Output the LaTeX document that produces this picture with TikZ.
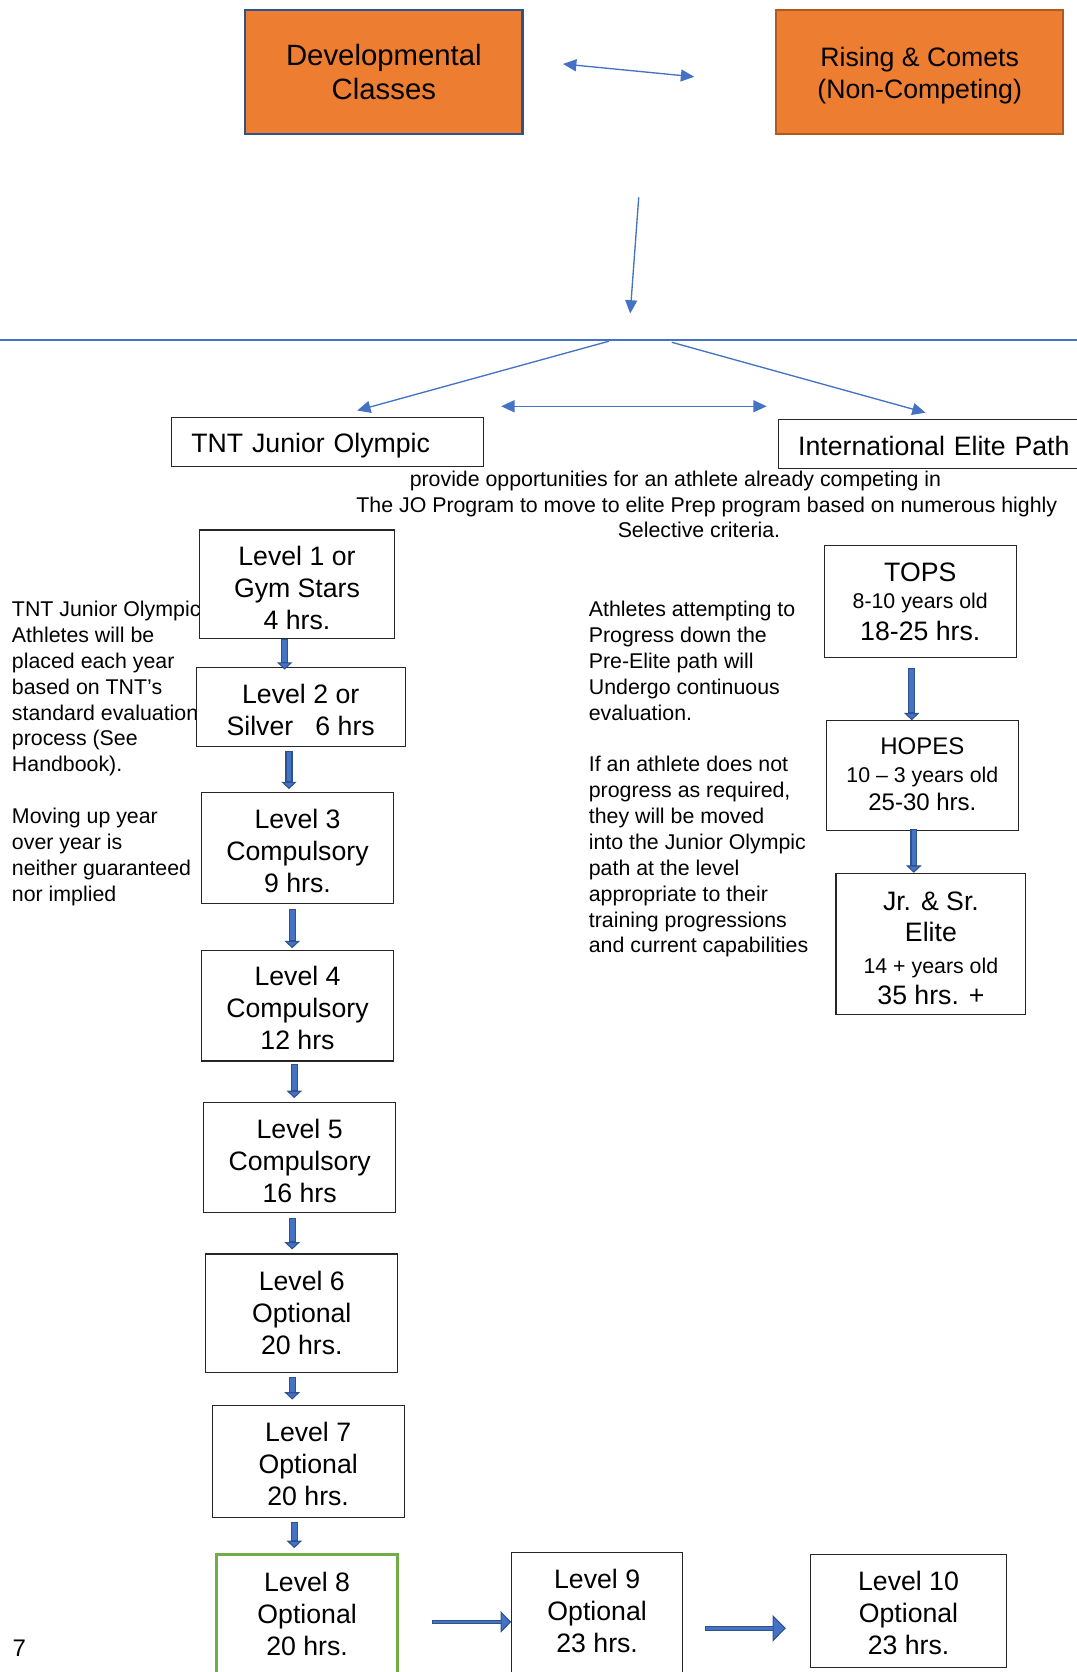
\documentclass[tikz,border=0pt]{standalone}
\usepackage{fontspec}
\setmainfont{Liberation Sans}
\usetikzlibrary{arrows.meta}
\definecolor{orng}{HTML}{ED7D31}
\definecolor{orngdk}{HTML}{AE5A21}
\definecolor{lblue}{HTML}{4472C4}
\definecolor{dblue}{HTML}{2F528F}
\definecolor{bblue}{HTML}{3A5FA8}
\definecolor{grn}{HTML}{70AD47}
\newcommand\myfs[2]{\fontsize{#1}{#2}\selectfont}
\newcommand\tpr[1]{\rule{0pt}{#1}}
\begin{document}
\begin{tikzpicture}[x=0.79975pt,y=-0.79975pt,
  sz/.style 2 args={minimum width=#1*0.79975pt, minimum height=#2*0.79975pt},
  box/.style={draw=black!85, line width=0.8pt, fill=white, inner sep=0pt, align=center, font=\myfs{20}{24}},
  dn/.style={execute at begin node={\rule{0pt}{#1}}},
  up/.style={execute at end node={\rule[-#1]{0pt}{0pt}}},
  lbl/.style={inner sep=0pt, align=left, font=\myfs{16}{19.4}},
  thinln/.style={draw=lblue, line width=1pt},
  tarr/.style={thinln, -{Triangle[length=10pt,width=9pt]}},
  darr/.style={thinln, {Triangle[length=10pt,width=9pt]}-{Triangle[length=10pt,width=9pt]}},
  blk/.style={draw=dblue, line width=5.3pt, -{Triangle[length=5.5pt,width=11.5pt,line width=0.8pt,fill=lblue]},
    postaction={draw=lblue, line width=3.5pt, -, shorten >=6pt, shorten <=0.8pt}},
  hblk/.style={draw=dblue, line width=3.5pt, -{Triangle[length=#1,width=2*#1,line width=0.8pt,fill=lblue]},
    postaction={draw=lblue, line width=1.9pt, -, shorten >=#1, shorten <=0.8pt}}
]
\useasboundingbox (0,0) rectangle (1010,1568);
\clip (0,0) rectangle (1010,1568);

% side texts (drawn first, boxes cover overflow)
\node[lbl, anchor=north west] (lefttxt) at (11,563.5) {TNT Junior Olympic\\Athletes will be\\placed each year\\based on TNT’s\\standard evaluation\\process (See\\Handbook).\\[19.4pt]Moving up year\\over year is\\neither guaranteed\\nor implied};
\node[lbl, anchor=north west] (midtxt) at (552,563.5) {Athletes attempting to\\Progress down the\\Pre-Elite path will\\Undergo continuous\\evaluation.\\[19.4pt]If an athlete does not\\progress as required,\\they will be moved\\into the Junior Olympic\\path at the level\\appropriate to their\\training progressions\\and current capabilities};
\node[lbl, anchor=north west, font=\myfs{16}{19.2}] (toptxt) at (334,441.5) {\hspace*{40pt}provide opportunities for an athlete already competing in\\The JO Program to move to elite Prep program based on numerous highly\\\hspace*{196pt}Selective criteria.};

% top boxes
\node[box, fill=orng, draw=dblue, line width=1.6pt, sz={260}{117}, font=\myfs{22}{25.6}] (dev) at (360,67.5) {Developmental\\Classes};
\node[box, fill=orng, draw=orngdk, line width=1.6pt, sz={269}{117}] (rise) at (862.5,67.5) {\tpr{19.3pt}Rising \& Comets\\(Non-Competing)};

% path boxes
\node[box, anchor=north west, sz={293}{46}, inner xsep=15.2pt, text width=204pt, align=left, dn=19.3pt] (tnt) at (160,391) {TNT Junior Olympic};
\node[box, anchor=north west, sz={300}{46}, inner xsep=14.4pt, text width=211pt, align=left, dn=17.7pt] (iep) at (730,393) {International Elite Path};

% level boxes
\node[box, sz={183}{102}] (l1) at (278.5,548) {\tpr{19.3pt}Level 1 or\\Gym Stars\\4 hrs.};
\node[box, sz={196}{74}] (l2) at (282,663) {\tpr{18.5pt}Level 2 or\\Silver~~~6 hrs};
\node[box, sz={180}{104}] (l3) at (279,795) {\tpr{19.3pt}Level 3\\Compulsory\\9 hrs.};
\node[box, sz={180}{104}] (l4) at (279,943) {\tpr{17.7pt}Level 4\\Compulsory\\12 hrs};
\node[box, sz={180}{103}] (l5) at (281,1085.5) {\tpr{19.3pt}Level 5\\Compulsory\\16 hrs};
\node[box, sz={180}{111}] (l6) at (283,1231.5) {Level 6\\Optional\\20 hrs.};
\node[box, sz={180}{105}] (l7) at (289,1370.5) {\tpr{18.5pt}Level 7\\Optional\\20 hrs.};
\node[box, draw=grn, line width=2pt, sz={170}{116}, up=4pt] (l8) at (288,1516) {Level 8\\Optional\\20 hrs.};
\node[box, sz={160}{116}, up=5pt] (l9) at (560,1514) {Level 9\\Optional\\23 hrs.};
\node[box, sz={184}{106}] (l10) at (852,1511) {\tpr{17.5pt}Level 10\\Optional\\23 hrs.};

% elite boxes
\node[box, sz={180}{105}] (tops) at (863,564.5) {TOPS\\[-3.2pt]{\myfs{16}{22}8-10 years old}\\18-25 hrs.};
\node[box, sz={180}{103}, font=\myfs{18}{21}, up=3.2pt] (hopes) at (865,727.5) {HOPES\\{\myfs{16}{21}10 – 3 years old}\\25-30 hrs.};
\node[box, sz={178}{132}, font=\myfs{20}{23.5}] (jrsr) at (873,885) {\tpr{20.9pt}Jr. \& Sr.\\Elite\\{\myfs{16}{23.5}14 + years old}\\35 hrs. +};

\node[inner sep=0pt, font=\myfs{18}{20}] (pg) at (18,1546) {7};

% thin connectors
\coordinate (da) at (528,60);
\coordinate (db) at (651,72);
\draw[darr] (da) -- (db);
\coordinate (va) at (599,185);
\coordinate (vb) at (591,294);
\draw[tarr] (va) -- (vb);
\coordinate (hl) at (0,319);
\coordinate (hr) at (1010,319);
\draw[thinln] (hl) -- (hr);
\coordinate (sa) at (571,320);
\coordinate (sb) at (630,321);
\coordinate (ta) at (335,385);
\coordinate (tb) at (868,387);
\draw[tarr] (sa) -- (ta);
\draw[tarr] (sb) -- (tb);
\coordinate (ha) at (470,381);
\coordinate (hb) at (719,381);
\draw[darr] (ha) -- (hb);

% block arrows
\draw[blk] (l1.south -| 267,0) -- ([yshift=-2pt]l2.north -| 267,0);
\draw[blk] ([yshift=-3pt]l2.south -| 271,0) -- ([yshift=2pt]l3.north -| 271,0);
\draw[blk] ([yshift=-4pt]l3.south -| 274,0) -- ([yshift=1pt]l4.north -| 274,0);
\draw[blk] ([yshift=-2pt]l4.south -| 276,0) -- ([yshift=3pt]l5.north -| 276,0);
\draw[blk] ([yshift=-4pt]l5.south -| 274,0) -- ([yshift=3pt]l6.north -| 274,0);
\draw[blk] ([yshift=-3pt]l6.south -| 274,0) -- ([yshift=4pt]l7.north -| 274,0);
\draw[blk] ([yshift=-3pt]l7.south -| 276,0) -- ([yshift=4pt]l8.north -| 276,0);
\draw[blk] ([yshift=-7pt]tops.south -| 855,0) -- (hopes.north -| 855,0);
\draw[blk] ([yshift=2pt]hopes.south -| 857,0) -- (jrsr.north -| 857,0);
\coordinate (a8) at (405,1521);
\draw[hblk=8pt] (a8) -- (l9.west |- 0,1521);
\coordinate (a9a) at (661,1527);
\coordinate (a9b) at (737,1527);
\draw[hblk=10pt] (a9a) -- (a9b);
\end{tikzpicture}
\end{document}
